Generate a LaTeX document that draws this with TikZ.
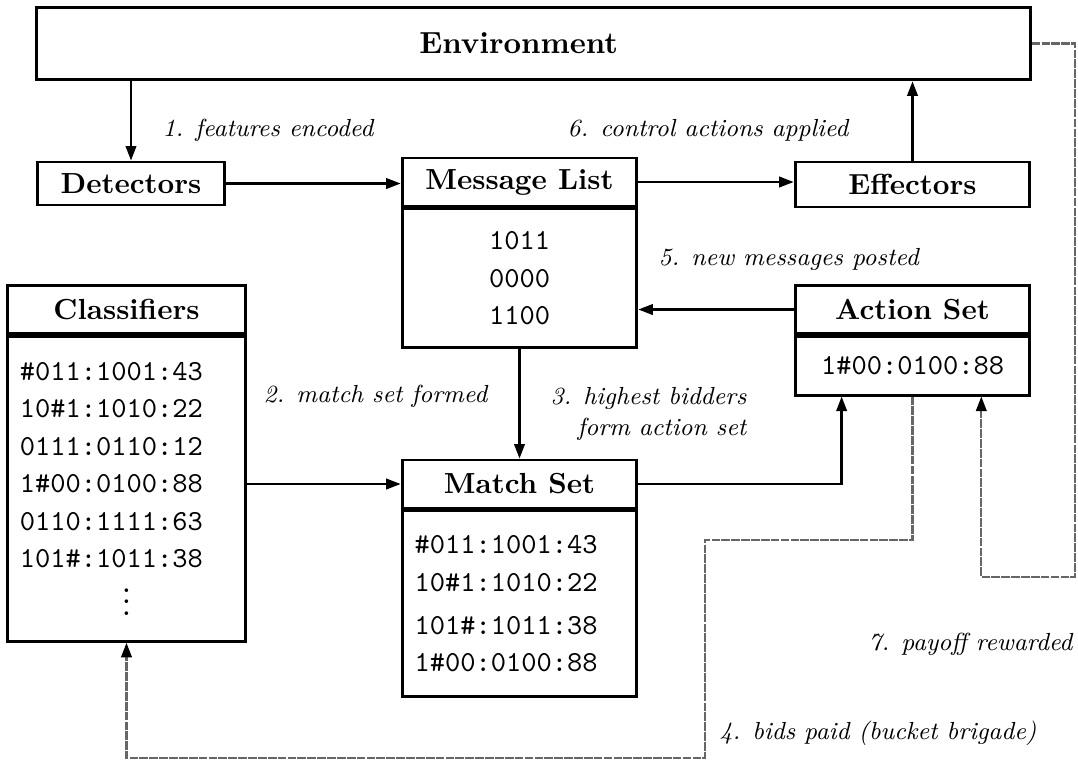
\documentclass[tikz,border=0pt]{standalone}
\usepackage{tikz}
\usetikzlibrary{arrows.meta,positioning}
\tikzset{
	box/.style={draw, line width=1pt, minimum width=2.84cm, inner sep=0pt, font=\bfseries},
	hdr/.style={box, minimum height=0.58cm},
	body/.style={draw, line width=1pt, minimum width=2.84cm, inner xsep=0.15cm, font=\ttfamily\fontsize{10}{12.9}\selectfont, align=center},
	sepline/.style={line width=1.8pt},
	arr/.style={line width=0.8pt, -{Triangle[length=5pt,width=3.6pt]}},
	pay/.style={line width=0.8pt, color=black!60, dash pattern=on 3pt off 0.4pt, -{Triangle[length=5pt,width=3.6pt,color=black]}},
	lbl/.style={font=\itshape\fontsize{8.5}{10.5}\selectfont, inner sep=0pt}
}

\begin{document}
\begin{tikzpicture}[x=0.0121cm, y=-0.0121cm]
	%%%%% START %%%%%
	\useasboundingbox (0,0) rectangle (1078,760);

	\node[box, minimum width=12.02cm, minimum height=0.88cm, font=\bfseries\fontsize{10.5}{12}\selectfont] (env) at (533.5,43.5) {\hspace*{-0.36cm}Environment};
	\node[box, minimum width=2.27cm, minimum height=0.52cm] (det) at (131,183.5) {Detectors};
	\node[box, minimum height=0.545cm] (eff) at (912.5,184.5) {Effectors};

	\node[hdr] (msg) at (519.5,182) {Message List};
	\node[body, below=0pt of msg, minimum height=1.68cm] (msgbody) {1011\\0000\\1100};
	\draw[sepline] (msg.south west) -- (msg.south east);

	\node[hdr, minimum width=2.87cm] (cls) at (126.5,309.5) {Classifiers};
	\node[body, below=0pt of cls, minimum width=2.87cm, minimum height=3.69cm, text width=2.58cm, align=left] (clsbody)
		{\#011:1001:43\\10\#1:1010:22\\0111:0110:12\\1\#00:0100:88\\0110:1111:63\\101\#:1011:38\\\makebox[\linewidth]{$\vdots$}};
	\draw[sepline] (cls.south west) -- (cls.south east);

	\node[hdr] (act) at (912.5,309.5) {Action Set};
	\node[body, below=0pt of act, minimum height=0.71cm] (actbody) {1\#00:0100:88};
	\draw[sepline] (act.south west) -- (act.south east);

	\node[hdr] (mat) at (519.5,484) {Match Set};
	\node[body, below=0pt of mat, minimum height=2.25cm, text width=2.54cm, align=left] (matbody)
		{\#011:1001:43\\10\#1:1010:22\\[2pt]101\#:1011:38\\1\#00:0100:88};
	\draw[sepline] (mat.south west) -- (mat.south east);

	% arrows
	\draw[arr] (env.south -| det.north) -- (det.north);
	\draw[arr] (det.east) -- (det.east -| msg.west);
	\draw[arr] (msg.east) -- (msg.east -| eff.west);
	\draw[arr] (eff.north) -- (eff.north |- env.south);
	\draw[arr] (act.west) -- (act.west -| msgbody.east);
	\draw[arr] (msgbody.south) -- (mat.north);
	\draw[arr] (clsbody.east |- mat.west) -- (mat.west);
	\draw[arr] (mat.east) -| ([xshift=0.58cm]actbody.south west);

	% payoff and bids
	\coordinate (bidturn) at (705,540);
	\coordinate (bidlow) at (705,758);
	\draw[pay] (actbody.south) |- (bidturn) -- (bidlow) -| (clsbody.south);
	\coordinate (payturn) at (1075,577);
	\draw[pay] (env.east) -| (payturn) -| ([xshift=-0.605cm]actbody.south east);

	% labels
	\node[lbl, anchor=west] (l1) at (162,130) {1. features encoded};
	\node[lbl, anchor=west] (l6) at (567,130) {6. control actions applied};
	\node[lbl, anchor=west] (l5) at (658,259) {5. new messages posted};
	\node[lbl, anchor=west] (l2) at (263,396) {2. match set formed};
	\node[lbl, align=right, anchor=east] (l3) at (747,414) {3. highest bidders\\form action set};
	\node[lbl, anchor=east] (l7) at (1073,644) {7. payoff rewarded};
	\node[lbl, anchor=east] (l4) at (1037,733) {4. bids paid (bucket brigade)};

	%%%%% END %%%%%
\end{tikzpicture}
\end{document}
